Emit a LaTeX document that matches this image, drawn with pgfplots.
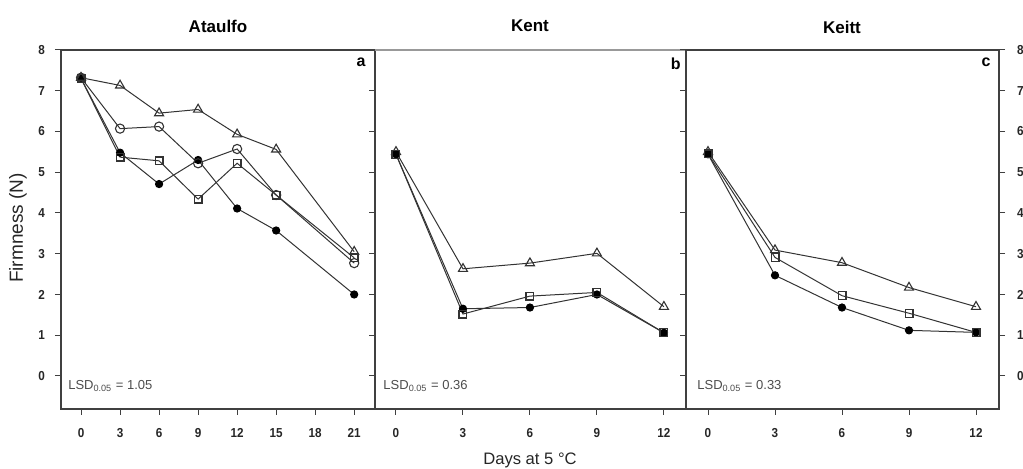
\documentclass[border=0pt]{standalone}
\usepackage{pgfplots}
\pgfplotsset{compat=1.18}
\usepackage{fontspec}
\setmainfont{Liberation Sans}
\newfontfamily\narrowsans[FakeStretch=0.9]{Liberation Sans}

\pgfplotsset{
  panel/.style={
    scale only axis, height=179.5pt,
    ymin=-0.81, ymax=8, ytick={0,1,...,8},
    tick align=outside, major tick length=3pt,
    xtick pos=lower,
    axis line style={black!75, line width=0.6pt},
    tick style={black!75, line width=0.5pt},
    /pgf/number format/assume math mode=true,
    ticklabel style={font=\narrowsans\bfseries\fontsize{6.5}{7}\selectfont, text=black!85},
    xticklabel style={yshift=-3pt},
    clip=false,
  },
  tri/.style={black!80, line width=0.5pt, mark=triangle, mark size=2.6pt, mark options={solid, fill=white, line width=0.55pt}},
  sq/.style={black!80, line width=0.5pt, mark=square, mark size=1.95pt, mark options={solid, fill=white, line width=0.6pt}},
  oc/.style={black!80, line width=0.5pt, mark=o, mark size=2.3pt, mark options={solid, fill=white, line width=0.55pt}},
  fc/.style={black!80, line width=0.5pt, mark=*, mark size=1.8pt, mark options={solid, fill=black, draw=black}},
}
\tikzset{
  lsd/.style={anchor=west, inner sep=0pt, font=\fontsize{6.5}{7}\selectfont, text=black!70},
  letter/.style={anchor=north east, inner sep=0pt, font=\bfseries\fontsize{8}{9}\selectfont},
}

\begin{document}
\begin{tikzpicture}
% Panel a
\begin{axis}[panel, at={(30.5pt,30pt)}, anchor=south west, width=157pt,
  xmin=-1.54, xmax=22.6, xtick={0,3,6,9,12,15,18,21}, ytick pos=left,
  yticklabel style={xshift=-1.5pt}]
\addplot[fc] coordinates {(0,7.30) (3,5.48) (6,4.71) (9,5.30) (12,4.11) (15,3.57) (21,2.00)};
\addplot[tri] coordinates {(0,7.32) (3,7.13) (6,6.45) (9,6.54) (12,5.93) (15,5.56) (21,3.05)};
\addplot[sq] coordinates {(0,7.30) (3,5.37) (6,5.28) (9,4.34) (12,5.22) (15,4.44) (21,2.90)};
\addplot[oc] coordinates {(0,7.32) (3,6.07) (6,6.12) (9,5.22) (12,5.57) (15,4.44) (21,2.77)};
\node[lsd] at (rel axis cs:0.022,0.064) {LSD\textsubscript{0.05} = 1.05};
\node[letter] at (rel axis cs:0.971,0.98) {a};
\end{axis}
% Panel b
\begin{axis}[panel, at={(187.5pt,30pt)}, anchor=south west, width=155.5pt,
  xmin=-0.94, xmax=12.99, xtick={0,3,6,9,12}, ytick pos=left, yticklabels={}]
\draw[white, line width=0.7pt] (rel axis cs:0,1) -- (rel axis cs:1,1);
\draw[black!40, line width=0.6pt] (rel axis cs:0,1) -- (rel axis cs:1,1);
\addplot[tri] coordinates {(0,5.50) (3,2.63) (6,2.77) (9,3.01) (12,1.70)};
\addplot[fc] coordinates {(0,5.44) (3,1.65) (6,1.68) (9,2.00) (12,1.06)};
\addplot[sq] coordinates {(0,5.44) (3,1.52) (6,1.96) (9,2.05) (12,1.06)};
\node[lsd] at (rel axis cs:0.026,0.064) {LSD\textsubscript{0.05} = 0.36};
\node[letter] at (rel axis cs:0.984,0.98) {b};
\end{axis}
% Panel c
\begin{axis}[panel, at={(343pt,30pt)}, anchor=south west, width=156.5pt,
  xmin=-0.985, xmax=13.03, xtick={0,3,6,9,12}, ytick pos=both, yticklabel pos=right,
  yticklabel style={xshift=2.5pt}]
\addplot[tri] coordinates {(0,5.50) (3,3.09) (6,2.78) (9,2.17) (12,1.70)};
\addplot[fc] coordinates {(0,5.44) (3,2.47) (6,1.68) (9,1.12) (12,1.07)};
\addplot[sq] coordinates {(0,5.45) (3,2.91) (6,1.97) (9,1.54) (12,1.07)};
\node[lsd] at (rel axis cs:0.035,0.064) {LSD\textsubscript{0.05} = 0.33};
\node[letter] at (rel axis cs:0.974,0.98) {c};
\end{axis}
% Titles and labels
\node[font=\bfseries\fontsize{8.5}{9}\selectfont] at (109pt,221.5pt) {Ataulfo};
\node[font=\bfseries\fontsize{8.5}{9}\selectfont] at (265pt,221.5pt) {Kent};
\node[font=\bfseries\fontsize{8.5}{9}\selectfont] at (421pt,221pt) {Keitt};
\node[rotate=90, font=\fontsize{9.5}{10}\selectfont, text=black!85] at (9pt,120.5pt) {Firmness (N)};
\node[font=\fontsize{8.3}{9}\selectfont, text=black!85] at (265pt,4.5pt) {Days at 5 °C};
\pgfresetboundingbox
\useasboundingbox (0,0) rectangle (511.5pt,234.5pt);
\end{tikzpicture}
\end{document}
